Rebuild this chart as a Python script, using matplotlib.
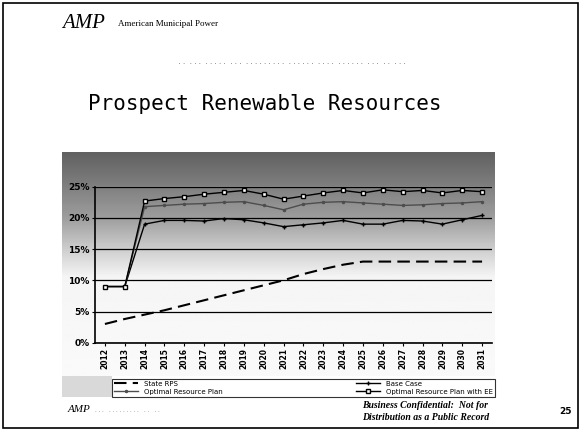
import numpy as np
import matplotlib
matplotlib.use("Agg")
import matplotlib.pyplot as plt
from matplotlib.patches import Rectangle

# data (percent of load)
years = [str(y) for y in range(2012, 2032)]
state_rps = [3.0, 3.8, 4.5, 5.2, 6.0, 6.8, 7.6, 8.4, 9.2, 10.0,
             11.0, 11.8, 12.5, 13.0, 13.0, 13.0, 13.0, 13.0, 13.0, 13.0]
base_case = [9.0, 9.0, 19.0, 19.6, 19.6, 19.5, 19.9, 19.7, 19.2, 18.6,
             18.9, 19.2, 19.6, 19.0, 19.0, 19.6, 19.5, 19.0, 19.7, 20.4]
optimal = [9.0, 9.0, 21.8, 22.0, 22.2, 22.3, 22.5, 22.6, 22.0, 21.3,
           22.2, 22.5, 22.6, 22.4, 22.2, 22.0, 22.1, 22.3, 22.4, 22.6]
optimal_ee = [9.0, 9.0, 22.7, 23.1, 23.4, 23.8, 24.1, 24.4, 23.8, 23.0,
              23.5, 24.0, 24.4, 24.0, 24.5, 24.2, 24.4, 24.0, 24.4, 24.2]
yticks = [0, 5, 10, 15, 20, 25]

W, H = 581, 445
fig = plt.figure(figsize=(W / 100, H / 100), dpi=100)
fig.patch.set_facecolor("white")

def fx(px):
    return px / W

def fy(py):
    return 1 - py / H

# slide frame
fig.patches.append(Rectangle((fx(3), fy(428)), fx(575), 425 / H, transform=fig.transFigure,
                             fill=False, ec="black", lw=1.2))

# header
fig.text(fx(62), fy(24), "AMP", family="Liberation Serif", style="italic", fontsize=15,
         va="center", ha="left")
fig.text(fx(118), fy(24), "American Municipal Power", family="Liberation Serif", fontsize=6.5,
         va="center", ha="left")
fig.text(fx(290), fy(62), "  . .  . . .  . . . . .  . . .  . . . . . . . . .  . . . . . .  . . . .  . . . . . .  . . .  . .  . . .",
         fontsize=5, color="0.4", ha="center", va="center")
fig.text(fx(88), fy(104), "Prospect Renewable Resources", family="DejaVu Sans Mono",
         fontsize=15, ha="left", va="center")

# chart background gradient
bg = fig.add_axes([fx(62), fy(376), fx(433), (376 - 152) / H])
bg.set_axis_off()
pos = np.array([0, 34, 66, 96, 125, 224]) / 224.0
shade = np.array([0.38, 0.50, 0.62, 0.80, 0.96, 0.98])
g = np.interp(np.linspace(0, 1, 200), pos, shade)
bg.imshow(np.tile(g[:, None], (1, 10)), cmap="gray", vmin=0, vmax=1, aspect="auto",
          extent=[0, 1, 0, 1])
bg.set_xlim(0, 1)
bg.set_ylim(0, 1)

# grey block left of the legend
fig.patches.append(Rectangle((fx(62), fy(397)), fx(50), 21 / H, transform=fig.transFigure,
                             fc="0.85", ec="none"))

ax = fig.add_axes([fx(95), fy(342.7), fx(397), (342.7 - 186.7) / H])
ax.patch.set_alpha(0)
x = np.arange(len(years))

ax.plot(x, state_rps, color="black", lw=1.5, dashes=(6, 3), label="State RPS")
ax.plot(x, base_case, color="black", lw=1.0, marker="+", ms=3, label="Base Case")
ax.plot(x, optimal, color="0.3", lw=1.0, marker=".", ms=3, label="Optimal Resource Plan")
ax.plot(x, optimal_ee, color="black", lw=1.0, marker="s", ms=2.5, mfc="white",
        label="Optimal Resource Plan with EE")

ax.set_xlim(-0.5, len(years) - 0.5)
ax.set_ylim(0, 25)
ax.set_yticks(yticks)
ax.set_yticklabels([f"{v}%" for v in yticks], fontsize=6.5, fontweight="bold")
ax.set_xticks(x)
ax.set_xticklabels(years, rotation=90, fontsize=5.5, fontweight="bold")
ax.tick_params(length=2, pad=2)
ax.yaxis.grid(True, color="black", lw=0.9)
for s in ["top", "right"]:
    ax.spines[s].set_visible(False)
ax.spines["left"].set_linewidth(1.2)
ax.spines["bottom"].set_linewidth(1.2)

h, l = ax.get_legend_handles_labels()
order = [0, 2, 1, 3]
leg = fig.legend([h[i] for i in order], [l[i] for i in order], ncol=2, fontsize=5,
                 loc="lower left", mode="expand",
                 bbox_to_anchor=(fx(112), fy(397), fx(383), 21 / H),
                 frameon=True, fancybox=False, edgecolor="black", borderpad=0.3,
                 labelspacing=0.3, handlelength=3.5, borderaxespad=0)
leg.get_frame().set_linewidth(0.8)

# footer
fig.text(fx(68), fy(410), "AMP", family="Liberation Serif", style="italic", fontsize=8,
         va="center", ha="left")
fig.text(fx(95), fy(410), ". . .   . . . . . . . . .   . .   . .", fontsize=4, color="0.4",
         va="center", ha="left")
fig.text(fx(362), fy(405), "Business Confidential:  Not for", family="Liberation Serif",
         style="italic", fontweight="bold", fontsize=7, va="center", ha="left")
fig.text(fx(362), fy(418), "Distribution as a Public Record", family="Liberation Serif",
         style="italic", fontweight="bold", fontsize=7, va="center", ha="left")
fig.text(fx(566), fy(412), "25", fontsize=6.5, fontweight="bold", va="center", ha="center")

fig.savefig("out.png", dpi=100)
